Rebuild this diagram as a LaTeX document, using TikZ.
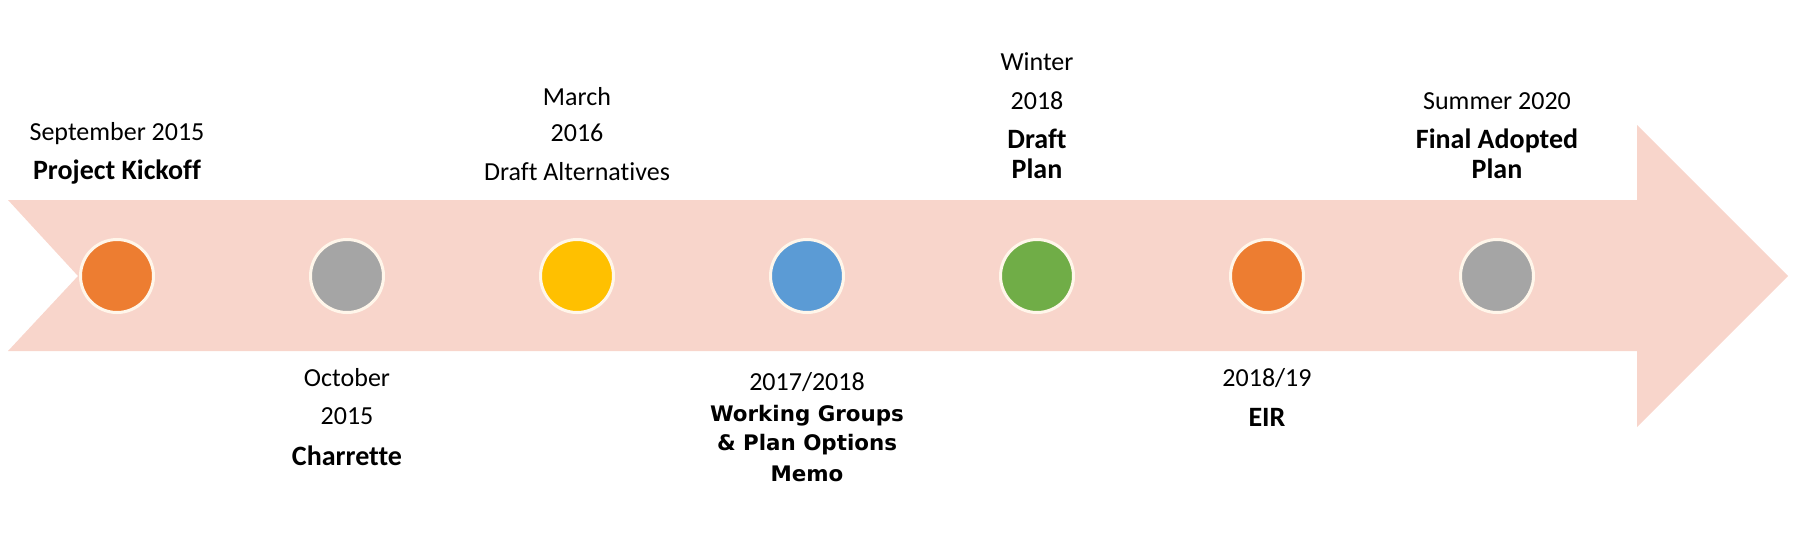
\documentclass[tikz,border=0pt]{standalone}
\usepackage{fontspec}
\setmainfont{Carlito}[Ligatures=NoCommon]
\newfontfamily\memofont{DejaVu Sans}
\usepackage{xcolor}
\usetikzlibrary{positioning}

\definecolor{bandpink}{HTML}{F8D5CB}
\definecolor{dotrim}{HTML}{FFF6EA}
\definecolor{dotorange}{HTML}{ED7D31}
\definecolor{dotgray}{HTML}{A5A5A5}
\definecolor{dotgold}{HTML}{FFC000}
\definecolor{dotblue}{HTML}{5B9BD5}
\definecolor{dotgreen}{HTML}{70AD47}

\tikzset{
  milestone/.style={circle, draw=dotrim, line width=1.5pt, minimum size=36.5pt, inner sep=0pt},
  when/.style={anchor=base, inner sep=0pt, font=\fontsize{13}{15}\selectfont},
  what/.style={anchor=base, inner sep=0pt, font=\fontsize{14}{16}\selectfont\bfseries},
  memo/.style={anchor=base, inner sep=0pt, font=\memofont\fontsize{10.7}{12}\selectfont\bfseries}
}

\begin{document}
\begin{tikzpicture}[x=0.5pt,y=-0.5pt]
    \useasboundingbox (0,0) rectangle (1795,543);

    % the big arrow
    \fill[bandpink](8,200)--(1637,200)--(1637,125)--(1788,276)--(1637,427)--(1637,351)--(8,351)--(78,276)--cycle;

    % milestones
    \node[milestone, fill=dotorange] (kickoff) at (117,276) {};
    \node[milestone, fill=dotgray] (charrette) at (347,276) {};
    \node[milestone, fill=dotgold] (alternatives) at (577,276) {};
    \node[milestone, fill=dotblue] (groups) at (807,276) {};
    \node[milestone, fill=dotgreen] (draftplan) at (1037,276) {};
    \node[milestone, fill=dotorange] (eir) at (1267,276) {};
    \node[milestone, fill=dotgray] (adopted) at (1497,276) {};

    % labels above
    \node[when] (kickoff-date) at (117,140) {September 2015};
    \node[what] (kickoff-name) at (117,179) {Project Kickoff};

    \node[when] (alternatives-month) at (577,105) {March};
    \node[when] (alternatives-year) at (577,141) {2016};
    \node[when] (alternatives-name) at (577,180) {Draft Alternatives};

    \node[when] (draftplan-season) at (1037,70) {Winter};
    \node[when] (draftplan-year) at (1037,109) {2018};
    \node[what] (draftplan-name) at (1037,148) {Draft};
    \node[what] (draftplan-name2) at (1037,178) {Plan};

    \node[when] (adopted-date) at (1497,109) {Summer 2020};
    \node[what] (adopted-name) at (1497,148) {Final Adopted};
    \node[what] (adopted-name2) at (1497,178) {Plan};

    % labels below
    \node[when] (charrette-month) at (347,386) {October};
    \node[when] (charrette-year) at (347,424) {2015};
    \node[what] (charrette-name) at (347,465) {Charrette};

    \node[when] (groups-date) at (807,390) {2017/2018};
    \node[memo] (groups-name) at (807,421) {Working Groups};
    \node[memo] (groups-name2) at (807,450) {\& Plan Options};
    \node[memo] (groups-name3) at (807,481) {Memo};

    \node[when] (eir-date) at (1267,386) {2018/19};
    \node[what] (eir-name) at (1267,426) {EIR};
\end{tikzpicture}
\end{document}
